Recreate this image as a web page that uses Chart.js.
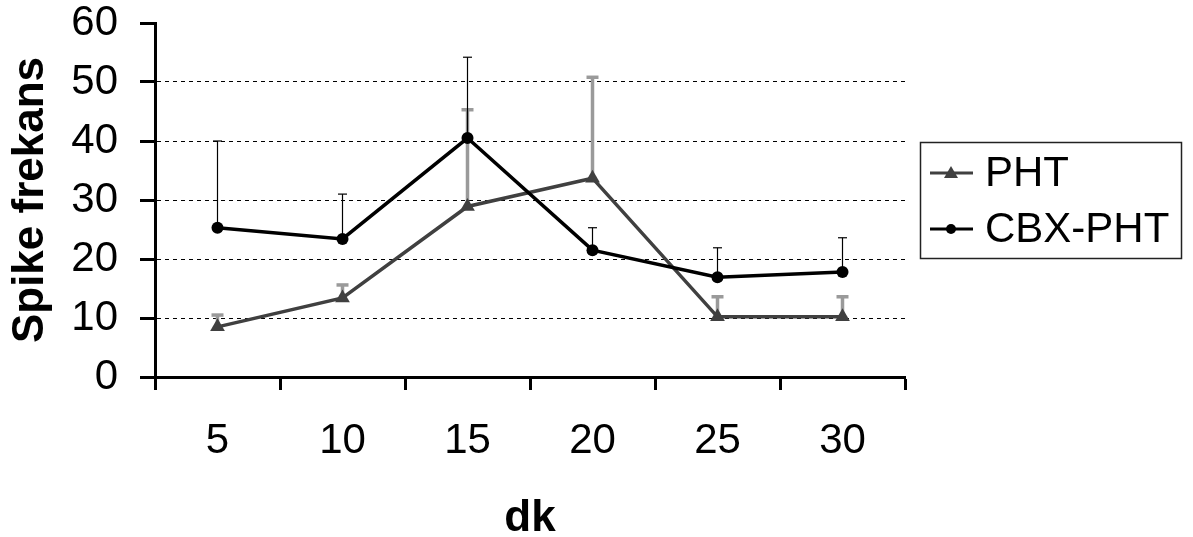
<!DOCTYPE html>
<html>
<head>
<meta charset="utf-8">
<style>
  html, body { margin: 0; padding: 0; background: #ffffff; }
  #wrap { width: 1193px; height: 537px; }
</style>
<script src="https://cdn.jsdelivr.net/npm/chart.js@4/dist/chart.umd.min.js"></script>
</head>
<body>
<div id="wrap"><canvas id="chart" width="1193" height="537"></canvas></div>
<script>
// Time points (minutes)
const categories = ['5', '10', '15', '20', '25', '30'];

// Mean spike frequency per group
const phtValues = [8.5, 13.4, 28.9, 33.7, 10.2, 10.2];
const cbxValues = [25.3, 23.4, 40.5, 21.5, 16.9, 17.8];

// Upper error (SD) per group
const phtErrors = [2.0, 2.2, 16.4, 17.1, 3.4, 3.4];
const cbxErrors = [14.7, 7.6, 13.7, 3.8, 5.0, 5.8];

// Y axis range
const yMin = 0;
const yMax = 60;
const yStep = 10;

const FONT = '"Liberation Sans", Arial, Helvetica, sans-serif';

// One-sided (upper) error bars, drawn under the lines
const errorBarPlugin = {
  id: 'errorBars',
  beforeDatasetsDraw(chart) {
    const ctx = chart.ctx;
    const y = chart.scales.y;
    chart.data.datasets.forEach((ds, di) => {
      const meta = chart.getDatasetMeta(di);
      const errs = ds.errorUp;
      const st = ds.errorStyle;
      meta.data.forEach((pt, i) => {
        const v = ds.data[i];
        const top = y.getPixelForValue(v + errs[i]);
        const base = y.getPixelForValue(v);
        ctx.save();
        ctx.strokeStyle = st.color;
        ctx.lineWidth = st.width;
        ctx.lineCap = 'butt';
        ctx.beginPath();
        ctx.moveTo(pt.x, base);
        ctx.lineTo(pt.x, top);
        ctx.stroke();
        ctx.lineWidth = st.capWidth;
        ctx.beginPath();
        ctx.moveTo(pt.x - st.cap / 2, top);
        ctx.lineTo(pt.x + st.cap / 2, top);
        ctx.stroke();
        ctx.restore();
      });
    });
  }
};

// Boxed legend to the right of the plot, line + marker samples
const boxLegendPlugin = {
  id: 'boxLegend',
  afterDraw(chart) {
    const ctx = chart.ctx;
    const area = chart.chartArea;
    const left = area.right + 15;
    const top = 142;
    const width = 261;
    const height = 116;
    ctx.save();
    ctx.strokeStyle = '#222222';
    ctx.lineWidth = 1.5;
    ctx.strokeRect(left + 0.5, top + 0.5, width, height);

    const rows = [top + 31, top + 87];
    chart.data.datasets.forEach((ds, i) => {
      const cy = rows[i];
      ctx.strokeStyle = ds.borderColor;
      ctx.lineWidth = 3;
      ctx.beginPath();
      ctx.moveTo(left + 10, cy);
      ctx.lineTo(left + 53, cy);
      ctx.stroke();
      const cx = left + 31;
      ctx.fillStyle = ds.pointBackgroundColor;
      if (ds.pointStyle === 'triangle') {
        ctx.beginPath();
        ctx.moveTo(cx, cy - 7);
        ctx.lineTo(cx + 7, cy + 5);
        ctx.lineTo(cx - 7, cy + 5);
        ctx.closePath();
        ctx.fill();
      } else {
        ctx.beginPath();
        ctx.arc(cx, cy, 5, 0, Math.PI * 2);
        ctx.fill();
      }
      ctx.fillStyle = '#000000';
      ctx.font = '42px ' + FONT;
      ctx.textBaseline = 'middle';
      ctx.textAlign = 'left';
      ctx.fillText(ds.label, left + 65, cy + 1);
    });
    ctx.restore();
  }
};

new Chart(document.getElementById('chart'), {
  type: 'line',
  data: {
    labels: categories,
    datasets: [
      {
        label: 'PHT',
        data: phtValues,
        errorUp: phtErrors,
        errorStyle: { color: '#9a9a9a', width: 3.5, cap: 12, capWidth: 3.5 },
        borderColor: '#404040',
        backgroundColor: '#404040',
        pointBackgroundColor: '#404040',
        pointBorderColor: '#404040',
        borderWidth: 3.5,
        pointStyle: 'triangle',
        pointRadius: 8.5,
        pointBorderWidth: 0,
        tension: 0,
        order: 1
      },
      {
        label: 'CBX-PHT',
        data: cbxValues,
        errorUp: cbxErrors,
        errorStyle: { color: '#000000', width: 1.2, cap: 9, capWidth: 1.2 },
        borderColor: '#000000',
        backgroundColor: '#000000',
        pointBackgroundColor: '#000000',
        pointBorderColor: '#000000',
        borderWidth: 3.5,
        pointStyle: 'circle',
        pointRadius: 6,
        pointBorderWidth: 0,
        tension: 0,
        order: 0
      }
    ]
  },
  options: {
    responsive: false,
    animation: false,
    devicePixelRatio: 1,
    layout: { padding: { left: 0, top: 23, right: 288, bottom: 0 } },
    plugins: {
      legend: { display: false },
      tooltip: { enabled: false }
    },
    scales: {
      x: {
        type: 'category',
        offset: true,
        grid: {
          offset: true,
          drawOnChartArea: false,
          drawTicks: true,
          tickLength: 13,
          tickWidth: 3,
          tickColor: '#000000'
        },
        border: { display: true, color: '#000000', width: 3 },
        ticks: {
          color: '#000000',
          font: { family: FONT, size: 42 },
          padding: 26,
          maxRotation: 0,
          autoSkip: false
        },
        title: {
          display: true,
          text: 'dk',
          color: '#000000',
          font: { family: FONT, size: 44, weight: 'bold' },
          padding: { top: 0, bottom: -8 }
        },
        afterFit(scale) {
          scale.height = 160;
          scale.paddingLeft = 0;
          scale.paddingRight = 0;
        }
      },
      y: {
        min: yMin,
        max: yMax,
        ticks: {
          stepSize: yStep,
          color: '#000000',
          font: { family: FONT, size: 42 },
          padding: 22
        },
        grid: {
          drawTicks: true,
          tickLength: 15,
          tickWidth: 3,
          tickColor: '#000000',
          lineWidth: 1,
          color(ctx) {
            const v = ctx.tick ? ctx.tick.value : null;
            return (v === yMin || v === yMax) ? 'rgba(0,0,0,0)' : '#000000';
          }
        },
        border: { display: true, color: '#000000', width: 3, dash: [4, 4] },
        title: {
          display: true,
          text: 'Spike frekans',
          color: '#000000',
          font: { family: FONT, size: 44, weight: 'bold' },
          padding: { top: 4, bottom: 0 }
        },
        afterFit(scale) {
          scale.width = 155;
          scale.paddingTop = 0;
          scale.paddingBottom = 0;
        }
      }
    }
  },
  plugins: [errorBarPlugin, boxLegendPlugin]
});
</script>
</body>
</html>
